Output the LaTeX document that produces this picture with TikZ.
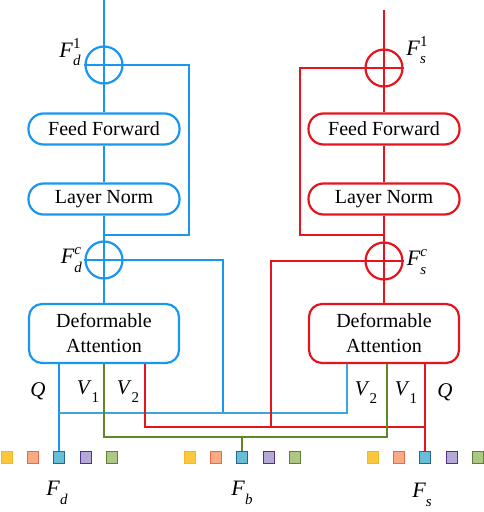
\documentclass[tikz,border=0pt]{standalone}
\usepackage{fontspec}
\setmainfont{Liberation Serif}
\newfontfamily\tms{Liberation Serif}
\definecolor{myblue}{RGB}{25,150,240}
\definecolor{linkblue}{RGB}{60,165,225}
\definecolor{myred}{RGB}{230,20,30}
\definecolor{mygreen}{RGB}{95,135,35}
\definecolor{sqyf}{RGB}{250,200,60}\definecolor{sqyd}{RGB}{245,185,30}
\definecolor{sqof}{RGB}{248,170,130}\definecolor{sqod}{RGB}{238,105,75}
\definecolor{sqcf}{RGB}{105,190,215}\definecolor{sqcd}{RGB}{40,100,150}
\definecolor{sqpf}{RGB}{182,168,215}\definecolor{sqpd}{RGB}{80,50,140}
\definecolor{sqgf}{RGB}{172,200,132}\definecolor{sqgd}{RGB}{90,130,50}
\newcommand\mylab[3]{\textit{#1}\rlap{\raisebox{-0.38em}{\fontsize{15bp}{15bp}\selectfont\textit{#2}}}\raisebox{0.42em}{\fontsize{15bp}{15bp}\selectfont #3}}
\newcommand\mysub[2]{\textit{#1}\raisebox{-0.38em}{\fontsize{15bp}{15bp}\selectfont #2}}
\begin{document}
\begin{tikzpicture}[x=1bp,y=-1bp,
  pill/.style={draw=#1,line width=2.2bp,rounded corners=15bp,minimum width=151bp,minimum height=31bp,inner sep=0pt,fill=white,text=black,font=\tms\fontsize{20bp}{25bp}\selectfont},
  dabox/.style={draw=#1,line width=2.2bp,rounded corners=13bp,minimum width=150bp,minimum height=59bp,inner sep=0pt,align=center,fill=white,text=black,font=\tms\fontsize{20bp}{25bp}\selectfont},
  circ/.style={draw=#1,circle,line width=2.2bp,minimum size=37bp,inner sep=0pt},
  ln/.style={line width=2bp},
  sq/.style={draw,line width=1.4bp,minimum size=11.5bp,inner sep=0pt},
  flab/.style={font=\tms\fontsize{22bp}{22bp}\selectfont,inner sep=0pt},
  vlab/.style={font=\tms\fontsize{21bp}{21bp}\selectfont,inner sep=0pt}]
\useasboundingbox (0,0) rectangle (484,512);
% ---- left column (blue)
\node[circ=myblue] (cd1) at (104,65) {};
\node[pill=myblue] (ffd) at (104,129) {Feed Forward};
\node[pill=myblue] (lnd) at (104,199) {Layer Norm};
\node[circ=myblue] (cdc) at (104,260) {};
\node[dabox=myblue] (dad) at (104,333.5) {Deformable\\Attention};
% ---- right column (red)
\node[circ=myred] (cs1) at (384,68) {};
\node[pill=myred] (ffs) at (384,129) {Feed Forward};
\node[pill=myred] (lns) at (384,199) {Layer Norm};
\node[circ=myred] (csc) at (384,261) {};
\node[dabox=myred] (das) at (384,333.5) {Deformable\\Attention};
% ---- squares
\foreach \n/\x in {d/0,b/183,s/366}{
  \node[sq,draw=sqyd,fill=sqyf] (sq\n1) at (7+\x,457.5) {};
  \node[sq,draw=sqod,fill=sqof] (sq\n2) at (33+\x,457.5) {};
  \node[sq,draw=sqcd,fill=sqcf] (sq\n3) at (59+\x,457.5) {};
  \node[sq,draw=sqpd,fill=sqpf] (sq\n4) at (86+\x,457.5) {};
  \node[sq,draw=sqgd,fill=sqgf] (sq\n5) at (112+\x,457.5) {};
}
% ---- coordinates
\coordinate (td) at (104,0);
\coordinate (ts) at (384,10);
\coordinate (skd) at (189,235);
\coordinate (jd) at (104,235);
\coordinate (sks) at (300,235);
\coordinate (js) at (384,235);
\coordinate (ld) at (223,413);
\coordinate (hbd) at (59,413);
\coordinate (hbs) at (347,413);
\coordinate (lr) at (271,427);
\coordinate (hrd) at (145,427);
\coordinate (hrs) at (425,427);
\coordinate (gd) at (104,437);
\coordinate (gs) at (387,437);
% ---- blue connectors
\begin{scope}[ln,myblue]
\draw (td) -- (cd1.south);
\draw (cd1.south) -- (ffd.north);
\draw (ffd.south) -- (lnd.north);
\draw (lnd.south) -- (cdc.south);
\draw (cdc.south) -- (dad.north);
\draw (cd1.west) -- (cd1.east) -| (skd) -- (jd);
\draw (cdc.west) -- (cdc.east) -| (ld);
\draw (dad.south -| sqd3) -- (sqd3.north);
\end{scope}
\draw[ln,linkblue] (hbd) -- (hbs) -- (das.south -| hbs);
% ---- red connectors
\begin{scope}[ln,myred]
\draw (ts) -- (cs1.south);
\draw (cs1.south) -- (ffs.north);
\draw (ffs.south) -- (lns.north);
\draw (lns.south) -- (csc.south);
\draw (csc.south) -- (das.north);
\draw (cs1.east) -- (cs1.west) -| (sks) -- (js);
\draw (csc.east) -- (csc.west) -| (lr);
\draw (das.south -| sqs3) -- (sqs3.north);
\draw (dad.south -| hrd) -- (hrd) -- (hrs);
\end{scope}
% ---- green connectors
\begin{scope}[ln,mygreen]
\draw (dad.south) -- (gd) -- (gs) -- (das.south -| gs);
\draw (gd -| sqb3) -- (sqb3.north);
\end{scope}
% ---- labels
\node[flab] (lfd1) at (70,52) {\mylab{F}{d}{1}};
\node[flab] (lfs1) at (417,50) {\mylab{F}{s}{1}};
\node[flab] (lfdc) at (71,260) {\mylab{F}{d}{\textit{c}}};
\node[flab] (lfsc) at (417,262) {\mylab{F}{s}{\textit{c}}};
\node[vlab] (lqd) at (38,391) {\textit{Q}};
\node[vlab] (lv1d) at (88,392) {\mysub{V}{1}};
\node[vlab] (lv2d) at (128,392) {\mysub{V}{2}};
\node[vlab] (lv2s) at (366,393) {\mysub{V}{2}};
\node[vlab] (lv1s) at (406,393) {\mysub{V}{1}};
\node[vlab] (lqs) at (445,392) {\textit{Q}};
\node[flab] (lfd) at (57,493) {\mysub{F}{\textit{d}}};
\node[flab] (lfb) at (242,493) {\mysub{F}{\textit{b}}};
\node[flab] (lfs) at (422,495) {\mysub{F}{\textit{s}}};
\end{tikzpicture}
\end{document}
